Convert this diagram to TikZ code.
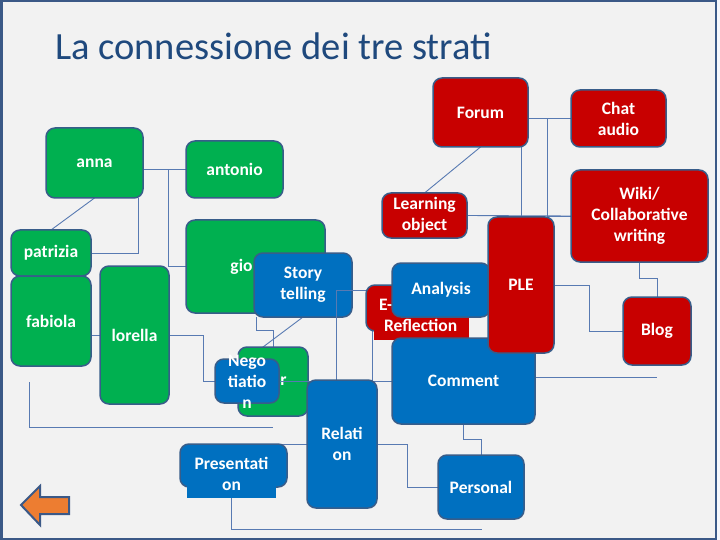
\documentclass[tikz,border=0pt]{standalone}
\usepackage{fontspec}
\setmainfont{Carlito}
\definecolor{slide}{RGB}{242,242,242}
\definecolor{edge}{RGB}{246,248,252}
\definecolor{border}{RGB}{59,89,135}
\definecolor{titleblue}{RGB}{31,73,125}
\definecolor{outline}{RGB}{56,93,138}
\definecolor{linkc}{RGB}{88,122,178}
\definecolor{sgreen}{RGB}{0,176,80}
\definecolor{sred}{RGB}{200,0,0}
\definecolor{sblue}{RGB}{0,112,192}
\definecolor{sorange}{RGB}{237,125,49}
\pgfdeclarelayer{back}
\pgfdeclarelayer{links}
\pgfdeclarelayer{top}
\pgfsetlayers{back,links,main,top}
\begin{document}
\begin{tikzpicture}[x=1pt, y=-1pt, line join=round, line cap=round,
	box/.style={draw=outline, line width=1.5pt, rounded corners=9pt, outer sep=0pt, inner sep=0pt, text=white, align=center, font=\bfseries\fontsize{17.5}{21}\selectfont},
	gbox/.style={box, fill=sgreen},
	rbox/.style={box, fill=sred},
	bbox/.style={box, fill=sblue},
	wh/.style 2 args={minimum width=#1pt, minimum height=#2pt},
	conn/.style={draw=linkc, line width=0.9pt}]
			\useasboundingbox (0,0) rectangle (720,540);
			\begin{pgfonlayer}{back}
				\fill[slide] (0,0) rectangle (720,540);
				\fill[edge] (717,0) rectangle (720,540);
				\draw[border, line width=2.5pt] (1.25,1.25) rectangle (716,538.75);
			\end{pgfonlayer}
			\node[anchor=base west, text=titleblue, inner sep=0pt, font=\fontsize{38.5}{46}\selectfont] (title) at (55,60) {La connessione dei tre strati};
			% persone
			\node[gbox, wh={97}{70}] (anna) at (94.5,163) {anna};
			\node[gbox, wh={97}{57}] (anto) at (234.5,169.5) {antonio};
			\node[gbox, wh={139}{93}] (gio) at (255.5,266.5) {gio\phantom{rgio}};
			\node[gbox, wh={80}{46}] (patr) at (51,253) {patrizia};
			\node[gbox, wh={80}{90}] (fabi) at (51,321) {fabiola};
			\node[gbox, wh={69}{138}] (lore) at (134.5,335) {lorella};
			\node[gbox, wh={70}{69}] (grn) at (273,381.5) {\hspace*{12pt}er};
			\node[bbox, wh={98}{64}] (story) at (303,285) {Story\\telling};
			% strumenti e attivita
			\begin{pgfonlayer}{top}
				\node[rbox, wh={95}{69}] (forum) at (480.5,112.5) {Forum};
				\node[rbox, wh={95}{57}] (chat) at (618.5,118.5) {Chat\\audio};
				\node[rbox, wh={85}{45}] (learn) at (424.5,215.5) {Learning\\object};
				\node[rbox, wh={137}{92}] (wiki) at (639.5,216) {Wiki/\\Collaborative\\writing};
				\node[rbox, wh={68}{68}] (blog) at (657,331) {Blog};
				\node[rbox, wh={102}{46}] (erefl) at (417,308) {};
				\node[rbox, draw=none, rounded corners=0pt, wh={95}{50}, text width=74pt, align=left] (ereflt) at (421,315) {\hspace*{-5pt}E-\\Reflection};
				\node[bbox, wh={98}{54}] (anal) at (441,290) {Analysis};
				\node[bbox, wh={143}{86}] (comm) at (463.5,381) {Comment};
				\node[rbox, wh={66}{136}] (ple) at (521,285) {PLE};
				\node[bbox, wh={70}{128}] (rel) at (342,444) {Relati\\on};
				\node[bbox, wh={64}{44}] (nego) at (247,381) {};
				\node[box, draw=none] (negot) at (247,382) {Nego\\tiatio\\n};
				\node[bbox, wh={107}{43}] (pres) at (233.5,465.5) {};
				\node[bbox, draw=none, rounded corners=0pt, wh={89}{48}] (prest) at (231.5,474) {Presentati\\on};
				\node[bbox, wh={86}{64}] (pers) at (481,487) {Personal};
			\end{pgfonlayer}
			\coordinate (p1) at (29,382);
			\coordinate (p2) at (273,427);
			\coordinate (p3) at (482,529);
			\coordinate (p4) at (657,377);
			\begin{pgfonlayer}{links}
				\draw[conn] (anna.east |- anto.west) -- (anto.west);
				\draw[conn] (anna.east |- anto.west) -- ++(25,0) |- (gio.west);
				\draw[conn] (anna.south) -- (patr.north);
				\draw[conn] (patr.east) -| ([xshift=-5pt]anna.south east);
				\draw[conn] (fabi.east |- lore.west) -- (lore.west);
				\draw[conn] (lore.east) -- ++(34,0) |- (nego.west);
				\draw[conn] (p1) |- (p2);
				\draw[conn] ([xshift=2pt]story.south west) -- ++(0,13) -| (grn.north);
				\draw[conn] (story.south) -- (nego.north);
				\draw[conn] (rel.west) -- ([xshift=-14pt]pres.north east);
				\draw[conn] (rel.east) -- ++(30,0) |- (pers.west);
				\draw[conn] (prest.south) |- (p3);
				\draw[conn] (comm.south) -- ++(0,15) -| (pers.north);
				\draw[conn] ([yshift=4pt]comm.east) -- (p4);
				\draw[conn] (forum.east |- chat.west) -- (chat.west);
				\draw[conn] (chat.west) -- ++(-24,0) |- (wiki.west);
				\draw[conn] (learn.east) -- (wiki.west);
				\draw[conn] (ple.north) -- (ple.north |- forum.south);
				\draw[conn] (forum.south) -- (learn.north);
				\draw[conn] (ple.east) -- ++(35,0) |- (blog.west);
				\draw[conn] (wiki.south) -- ++(0,16) -| (blog.north);
			\end{pgfonlayer}
			\draw[conn] ([yshift=18pt]erefl.west) -| ([xshift=-6pt]rel.north);
			\draw[conn] (nego.east) -- (comm.west);
			\draw[conn] ([xshift=6pt]erefl.south west) |- (comm.west);
			% freccia
			\draw[draw=border, fill=sorange, line width=2pt, line join=miter] (21,505) -- (40,486) -- (40,497) -- (69,497) -- (69,514) -- (40,514) -- (40,525) -- cycle;
		\end{tikzpicture}
\end{document}
